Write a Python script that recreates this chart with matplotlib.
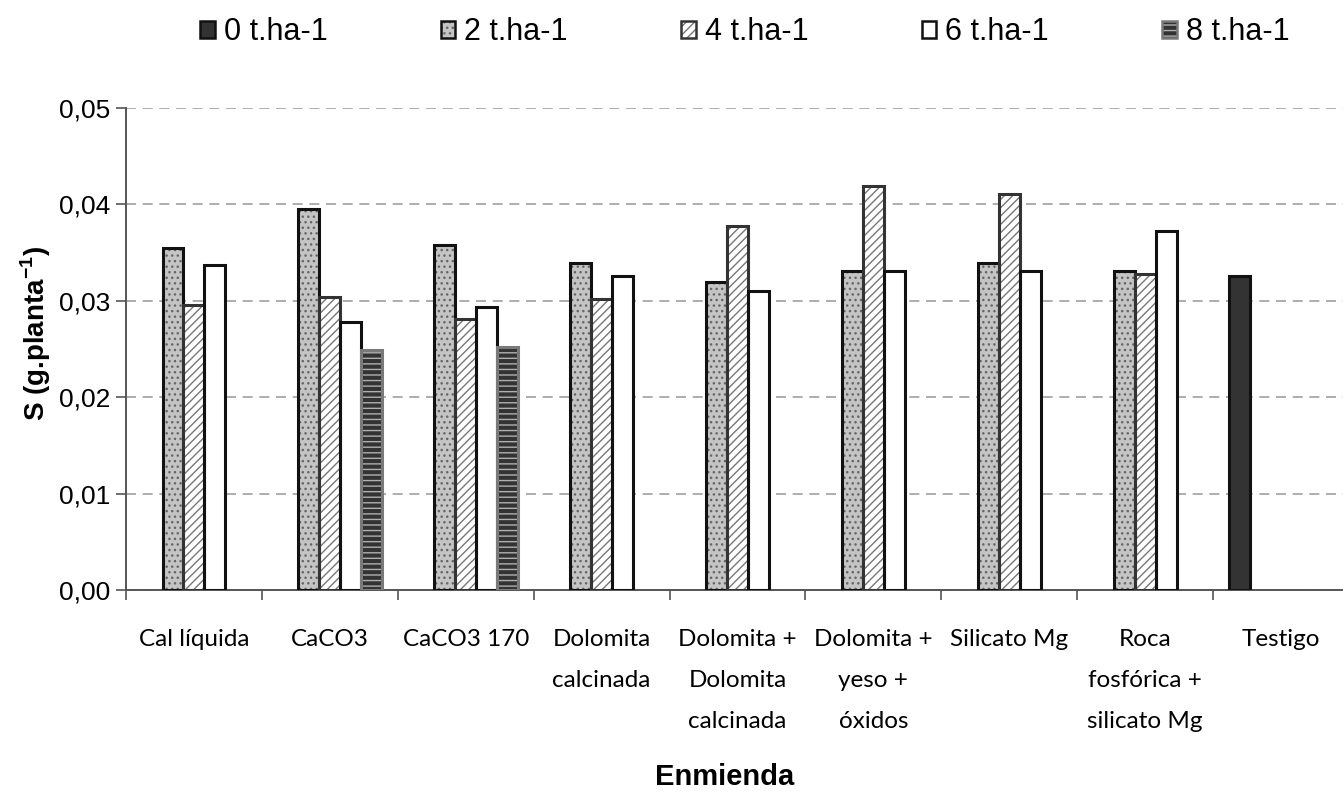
import matplotlib

matplotlib.use("Agg")
import matplotlib.pyplot as plt
import numpy as np
from matplotlib.legend_handler import HandlerTuple
from matplotlib.patches import Patch

# data
categories = [
    "Cal líquida",
    "CaCO3",
    "CaCO3 170",
    "Dolomita\ncalcinada",
    "Dolomita +\nDolomita\ncalcinada",
    "Dolomita +\nyeso +\nóxidos",
    "Silicato Mg",
    "Roca\nfosfórica +\nsilicato Mg",
    "Testigo",
]
series_names = ["0 t.ha-1", "2 t.ha-1", "4 t.ha-1", "6 t.ha-1", "8 t.ha-1"]
nan = np.nan
t0 = [nan, nan, nan, nan, nan, nan, nan, nan, 0.0325]
t2 = [0.0354, 0.0395, 0.0357, 0.0339, 0.0319, 0.0331, 0.0339, 0.0331, nan]
t4 = [0.0295, 0.0304, 0.0281, 0.0302, 0.0377, 0.0419, 0.0410, 0.0327, nan]
t6 = [0.0337, 0.0278, 0.0293, 0.0325, 0.0310, 0.0331, 0.0331, 0.0372, nan]
t8 = [nan, 0.0249, 0.0252, nan, nan, nan, nan, nan, nan]
y_ticks = [0.0, 0.01, 0.02, 0.03, 0.04, 0.05]

# (fill, hatch, hatch colour, edge colour)
styles = [
    ("#333333", None, None, "#111111"),
    ("#c4c4c4", "...", "#666666", "#111111"),
    ("#ffffff", "////", "#777777", "#333333"),
    ("#ffffff", None, None, "#111111"),
    ("#333333", "---", "#b0b0b0", "#7a7a7a"),
]

SANS = ["Liberation Sans", "DejaVu Sans"]
plt.rcParams["hatch.linewidth"] = 1.0
plt.rcParams["mathtext.fontset"] = "custom"
plt.rcParams["mathtext.bf"] = "Liberation Sans:bold"
plt.rcParams["mathtext.rm"] = "Liberation Sans"

fig = plt.figure(figsize=(13.43, 7.92), dpi=100)
ax = fig.add_axes([126 / 1343, (792 - 590) / 792, 1223 / 1343, 482.5 / 792])

x = np.arange(len(categories))
width = 1 / 6.5
all_series = [t0, t2, t4, t6, t8]
handles = []
for slot, (vals, (fill, hatch, hcol, ecol)) in enumerate(zip(all_series, styles)):
    pos = x + (slot - 2) * width
    vals = np.asarray(vals, dtype=float)
    ok = ~np.isnan(vals)
    if hatch:
        ax.bar(pos[ok], vals[ok], width, color=fill, hatch=hatch, edgecolor=hcol,
               linewidth=0, zorder=2)
    else:
        ax.bar(pos[ok], vals[ok], width, color=fill, linewidth=0, zorder=2)
    ax.bar(pos[ok], vals[ok], width, fill=False, edgecolor=ecol, linewidth=2.2, zorder=3)
    body = Patch(facecolor=fill, hatch=hatch, edgecolor=hcol if hcol else fill, linewidth=0)
    outline = Patch(fill=False, edgecolor=ecol, linewidth=1.8)
    handles.append((body, outline))

ax.set_xlim(-0.5, len(categories) - 0.5)
ax.set_ylim(0, 0.05)
ax.set_yticks(y_ticks)
ax.set_yticklabels([f"{v:.2f}".replace(".", ",") for v in y_ticks], family=SANS, fontsize=19)
ax.yaxis.grid(True, linestyle=(0, (6, 4)), color="#a0a0a0", linewidth=1.2, zorder=0)
ax.set_axisbelow(True)

ax.set_xticks(x)
ax.set_xticklabels(categories, family=["Lato", "DejaVu Sans"], fontsize=17.5, linespacing=2.18,
                   va="top")
ax.set_xticks(np.arange(len(categories) + 1) - 0.5, minor=True)
ax.tick_params(axis="x", which="major", length=0, pad=28)
ax.tick_params(axis="x", which="minor", length=7, width=1.2, color="#555555", direction="out")
ax.tick_params(axis="y", length=7, width=1.2, color="#555555", pad=4)

for side in ("top", "right"):
    ax.spines[side].set_visible(False)
ax.spines["left"].set_color("#555555")
ax.spines["left"].set_linewidth(1.4)
ax.spines["bottom"].set_color("#555555")
ax.spines["bottom"].set_linewidth(1.4)

fig.text(36 / 1343, 1 - 334 / 792, r"S (g.planta$^{\mathbf{-1}}$)", rotation=90,
         ha="center", va="center", fontsize=20, fontweight="bold", family=SANS)
fig.text(725 / 1343, 1 - 777 / 792, "Enmienda", ha="center", va="center", fontsize=21,
         fontweight="bold", family=SANS)

fig.legend(handles, series_names, handler_map={tuple: HandlerTuple(ndivide=1, pad=0)},
           loc="center left", bbox_to_anchor=(200 / 1343, 1 - 32 / 792), ncol=5,
           frameon=False, prop={"family": SANS, "size": 22},
           handlelength=0.48, handleheight=0.48, handletextpad=0.3, columnspacing=3.7,
           borderaxespad=0, borderpad=0)

fig.savefig("out.png", dpi=100)
